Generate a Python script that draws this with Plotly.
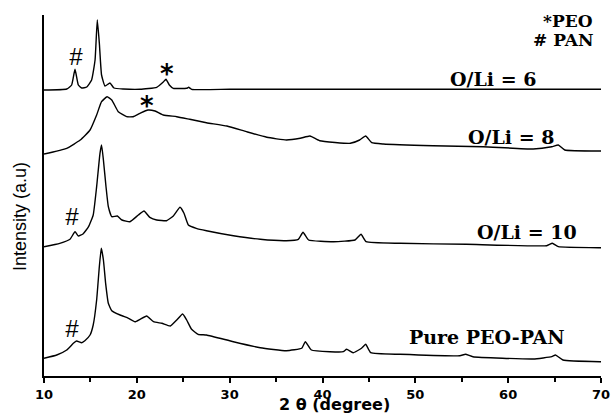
import plotly.graph_objects as go

# ---- data (2θ in degrees, intensity in arbitrary units incl. stacking offset) ----
theta_6 = [10.0, 12.45, 12.98, 13.34, 13.7, 14.06, 14.6, 15.13, 15.5, 15.74, 15.96, 16.2,
           16.57, 17.1, 17.54, 18.54, 20.34, 22.14, 22.85, 23.14, 23.5, 23.93, 25.37, 25.58,
           25.9, 30.0, 40.0, 50.0, 60.0, 70.0]
int_6 = [286, 287, 291, 306.7, 291, 288, 289, 296, 316, 356, 333, 301,
         290, 293, 288, 287, 286.7, 288.7, 294, 296.7, 291, 287.7, 287.7, 288.7,
         286.7, 286.7, 286.7, 286.7, 286.7, 286.7]

theta_8 = [10.0, 12.45, 13.9, 14.96, 15.67, 16.2, 16.8, 17.3, 18.0, 18.9, 19.6, 20.34,
           21.2, 21.96, 22.85, 24.3, 25.7, 27.5, 29.7, 31.8, 34.0, 36.1, 37.6, 38.65,
           39.7, 43.0, 44.0, 44.65, 45.3, 46.55, 51.9, 57.3, 62.7, 64.7, 65.4, 66.1, 69.9, 70.0]
int_8 = [222, 227.7, 236, 246, 261, 274.3, 279.3, 276, 264.3, 259.3, 259.3, 262.7,
         266, 265, 261, 259.3, 256.7, 253.3, 250, 244.3, 238.7, 236, 237.7, 240,
         235.3, 232.7, 236, 240, 233.3, 232, 230.3, 229.3, 227, 229.3, 231, 226, 225, 225]

theta_10 = [10.0, 11.7, 12.8, 13.34, 13.7, 14.2, 14.8, 15.3, 15.67, 16.03, 16.2, 16.4,
            16.68, 16.93, 17.3, 17.9, 18.4, 19.26, 20.16, 20.77, 21.4, 22.14, 23.2, 23.93,
            24.65, 25.08, 25.55, 26.4, 27.5, 30.4, 33.3, 36.1, 37.4, 37.9, 38.5, 41.2,
            43.5, 44.15, 44.7, 48.35, 55.5, 64.15, 64.76, 65.4, 69.9, 70.0]
int_10 = [129.3, 132.7, 136.7, 144.3, 140, 142, 149.3, 161, 189.3, 222.7, 231, 216,
          189.3, 169.3, 159.3, 160, 156, 154.3, 161, 165, 158.7, 156, 155.3, 160,
          168.7, 162.7, 151, 147.7, 145.3, 140.3, 136.7, 135.3, 136.7, 143.7, 136, 134.3,
          136, 141.7, 134.3, 132.7, 131.7, 130.3, 132.7, 129.3, 128.3, 128.3]

theta_pure = [10.0, 11.37, 12.45, 13.16, 13.5, 14.06, 14.4, 14.96, 15.3, 15.67, 15.96, 16.17,
              16.4, 16.64, 16.93, 17.3, 18.2, 19.1, 19.8, 20.34, 21.06, 21.8, 22.7, 23.6,
              24.3, 24.93, 25.37, 25.9, 26.6, 27.5, 30.4, 33.3, 36.1, 37.76, 38.15, 38.8,
              40.8, 42.24, 42.6, 43.3, 44.2, 44.65, 45.2, 48.35, 54.8, 55.4, 56.2, 62.7,
              64.7, 65.1, 65.9, 69.9, 70.0]
int_pure = [17.7, 21, 26, 32.7, 35, 33.3, 35.3, 41, 51, 76, 109.3, 127.7,
            116, 92.7, 72.7, 65.3, 61, 57.7, 54.3, 56.7, 60, 54.3, 52.7, 50,
            56, 62, 56, 46.7, 41.7, 41, 34.3, 28.3, 25.3, 27.7, 34.3, 26,
            24.3, 24.3, 26.7, 23.3, 27.7, 31.7, 23.3, 21.7, 20.3, 21.7, 19.3, 17,
            19.3, 21, 16, 14.3, 14.3]

series_names = ["O/Li = 6", "O/Li = 8", "O/Li = 10", "Pure PEO-PAN"]
label_x = [58.4, 60.3, 62.0, 57.7]
label_y = [297, 239, 144, 39]

marker_text = ["#", "*", "*", "#", "#"]
marker_x = [13.45, 23.3, 21.1, 13.0, 13.05]
marker_y = [320, 302, 270, 160, 48]

x_ticks = [10, 20, 30, 40, 50, 60, 70]

W, H = 611, 417
L, T, B, R = 44, 15, 41, 10
PW, PH = W - L - R, H - T - B


def px(xp):
    return (xp - L) / PW


def py(yp):
    return (H - B - yp) / PH


fig = go.Figure()
for xs, ys, nm in [(theta_6, int_6, series_names[0]), (theta_8, int_8, series_names[1]),
                   (theta_10, int_10, series_names[2]), (theta_pure, int_pure, series_names[3])]:
    fig.add_trace(go.Scatter(x=xs, y=ys, mode="lines", name=nm,
                             line=dict(color="black", width=1.4, shape="spline", smoothing=0.4),
                             showlegend=False))

serif = dict(family="DejaVu Serif", size=19, color="black", weight="bold")
for t, xx, yy in zip(series_names, label_x, label_y):
    fig.add_annotation(x=xx, y=yy, text=t, showarrow=False, font=serif,
                       xanchor="center", yanchor="middle")

for t, xx, yy in zip(marker_text, marker_x, marker_y):
    if t == "#":
        f = dict(family="Liberation Sans", size=24, color="black", style="italic")
    else:
        f = dict(family="DejaVu Sans", size=26, color="black", weight="bold")
    fig.add_annotation(x=xx, y=yy, text=t, showarrow=False, font=f,
                       xanchor="center", yanchor="middle")

# key
key_font = dict(family="DejaVu Serif", size=17, color="black", weight="bold")
fig.add_annotation(x=px(595), y=py(21), xref="paper", yref="paper",
                   text="*PEO", showarrow=False, font=key_font, xanchor="right", yanchor="middle")
fig.add_annotation(x=px(595), y=py(40), xref="paper", yref="paper",
                   text="# PAN", showarrow=False, font=key_font, xanchor="right", yanchor="middle")

# axis titles
fig.add_annotation(x=px(334), y=py(416), xref="paper", yref="paper",
                   text="2 θ (degree)", showarrow=False,
                   font=dict(family="DejaVu Sans", size=16, color="black", weight="bold"),
                   xanchor="center", yanchor="bottom")
fig.add_annotation(x=px(20), y=py(217), xref="paper", yref="paper",
                   text="Intensity (a.u)", showarrow=False, textangle=-90,
                   font=dict(family="Liberation Sans", size=18, color="black"),
                   xanchor="center", yanchor="middle")

fig.update_layout(
    template="none",
    width=W, height=H,
    margin=dict(l=L, r=R, t=T, b=B, autoexpand=False),
    paper_bgcolor="white", plot_bgcolor="white",
    xaxis=dict(range=[10, 70], tickvals=x_ticks, ticktext=[str(v) for v in x_ticks],
               automargin=False,
               showline=True, linewidth=2, linecolor="black", mirror=False,
               ticks="outside", ticklen=5, tickwidth=1.5, tickcolor="black",
               showgrid=False, zeroline=False,
               tickfont=dict(family="DejaVu Sans", size=13, color="black", weight="bold"),
               minor=dict(dtick=5, tick0=10, ticks="outside", ticklen=4, tickwidth=1.5,
                          tickcolor="black", showgrid=False)),
    yaxis=dict(range=[0, 361], automargin=False, showline=True, linewidth=2, linecolor="black",
               showticklabels=False, ticks="", showgrid=False, zeroline=False),
)

fig.write_html("out.html", config={"displayModeBar": False},
               post_script="document.body.style.margin='0';document.body.style.overflow='hidden';")
